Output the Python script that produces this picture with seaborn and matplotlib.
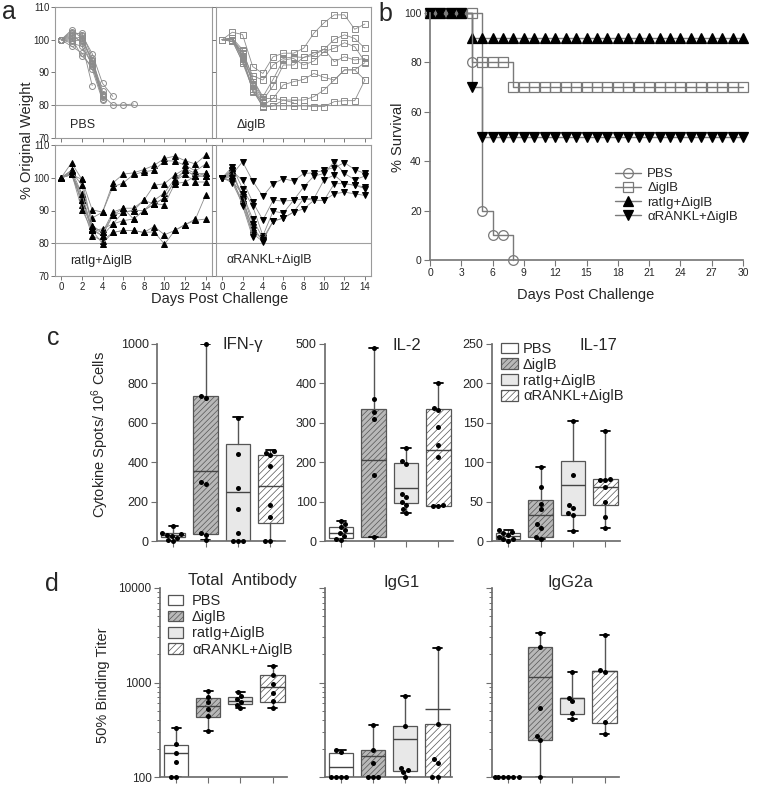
import numpy as np
import pandas as pd
import matplotlib
matplotlib.use("Agg")
import matplotlib.pyplot as plt
import seaborn as sns
from matplotlib.lines import Line2D
from matplotlib.patches import Patch

sns.set_theme(style="ticks")
plt.rcParams["font.family"] = ["Liberation Sans", "DejaVu Sans"]
plt.rcParams["mathtext.default"] = "regular"
plt.rcParams["hatch.linewidth"] = 0.5

groups = ["PBS", "ΔiglB", "ratIg+ΔiglB", "αRANKL+ΔiglB"]

# a: % original weight, one list per mouse starting at day 0
wt_pbs = [
    [100, 102.5, 101.5, 95.8, 86.7, 82.7],
    [100, 101.5, 102.2, 94.5, 83.0, 80.1, 80.1, 80.4],
    [100, 103.0, 100.5, 93.0, 83.0],
    [100, 101.0, 99.5, 92.0, 82.5],
    [100, 100.0, 101.0, 93.5, 83.5],
    [100, 99.0, 98.0, 92.5, 82.0],
    [100, 98.0, 96.0, 91.0, 81.5],
    [100, 102.0, 99.0, 86.0],
    [100, 100.5, 95.0, 92.0, 82.8],
    [100, 99.5, 100.0, 93.8, 84.5],
]
wt_iglb = [
    [100, 102.3, 101.6, 91.8, 89.7, 94.8, 95.9, 95.9, 97.4, 102.0, 105.2, 107.6, 107.6, 103.2, 104.8],
    [100, 100.5, 96.0, 89.0, 87.7, 92.3, 94.3, 94.8, 94.6, 95.3, 97.1, 100.1, 101.5, 100.4, 97.4],
    [100, 100.0, 94.5, 88.0, 82.6, 87.9, 93.8, 94.3, 92.3, 93.5, 96.4, 97.4, 99.1, 97.9, 93.3],
    [100, 100.5, 95.0, 87.0, 81.6, 85.9, 92.3, 92.3, 94.6, 96.0, 97.1, 93.3, 94.8, 93.8, 94.3],
    [100, 99.5, 93.5, 86.0, 79.8, 82.1, 86.2, 87.2, 87.9, 89.7, 88.5, 87.7, 90.8, 90.8, 87.7],
    [100, 100.0, 93.0, 85.0, 79.4, 79.8, 81.6, 81.6, 81.6, 82.6, 84.7, 87.7, 90.8, 90.8, 93.0],
    [100, 100.5, 94.0, 84.5, 79.6, 79.8, 79.8, 79.8, 79.8, 79.6, 79.6, 81.1, 81.4, 81.4, 87.7],
    [100, 100.0, 95.5, 84.0, 81.1],
    [100, 99.5, 96.5, 86.5, 80.6],
    [100, 100.5, 97.0, 88.0, 82.0, 82.1, 81.6, 80.8],
]
wt_ratig = [
    [100, 101.0, 99.5, 90.2, 89.5, 98.4, 101.1, 101.5, 102.5, 103.8, 105.9, 106.6, 105.2, 104.2, 106.9],
    [100, 102.3, 95.1, 87.7, 89.5, 97.2, 98.4, 101.0, 101.8, 102.3, 105.2, 105.1, 103.8, 102.1, 104.2],
    [100, 104.6, 99.5, 85.4, 83.3, 89.5, 90.7, 90.7, 93.1, 97.7, 98.2, 100.8, 102.8, 101.3, 101.3],
    [100, 101.5, 94.1, 84.4, 82.3, 88.5, 89.5, 90.0, 90.0, 93.1, 95.4, 99.7, 102.3, 100.5, 100.5],
    [100, 101.0, 93.1, 83.9, 84.4, 85.9, 86.9, 87.4, 90.0, 92.0, 93.9, 99.0, 101.1, 98.7, 98.7],
    [100, 102.3, 91.8, 82.3, 80.8, 83.3, 83.9, 83.9, 83.3, 85.1, 82.6, 83.9, 85.7, 87.4, 94.8],
    [100, 101.5, 90.3, 83.9, 79.9, 83.3, 83.9, 83.9, 83.3, 83.5, 79.7, 83.9, 85.7, 87.0, 87.4],
    [100, 101.0, 93.1, 83.9, 82.3, 85.9, 89.5, 90.0, 93.1, 92.0, 91.8, 98.2, 98.7, 100.5, 101.3],
    [100, 101.0, 95.1, 84.4, 83.3, 88.5, 90.7, 87.4, 90.0, 92.0, 93.9, 99.0, 102.3, 100.5, 100.5],
    [100, 102.0, 97.7, 85.4],
]
wt_rankl = [
    [100, 101.0, 104.9, 99.0, 94.3, 98.2, 99.7, 99.0, 101.3, 101.5, 102.3, 103.1, 104.6, 102.5, 101.3],
    [100, 102.0, 99.2, 92.6, 87.1, 93.1, 92.9, 93.1, 97.2, 100.5, 101.3, 104.9, 101.3, 99.4, 100.5],
    [100, 103.3, 96.7, 91.3, 82.3, 89.8, 89.2, 93.1, 93.6, 93.6, 99.4, 100.8, 98.2, 97.7, 97.2],
    [100, 100.5, 95.1, 87.4, 81.5, 86.7, 87.7, 89.5, 93.6, 93.1, 93.1, 98.2, 98.2, 97.7, 96.7],
    [100, 99.0, 93.0, 85.0, 80.8, 86.7, 87.7, 89.5, 90.5, 93.1, 93.1, 95.1, 95.6, 95.1, 94.6],
    [100, 101.5, 94.0, 84.0, 81.0],
    [100, 98.5, 92.0, 83.0, 80.5],
    [100, 102.5, 93.5, 82.5],
    [100, 100.0, 91.5, 81.8],
    [100, 99.0, 95.0, 86.0],
]

# b: % survival, one value per day from day 0
surv_pbs = [100, 100, 100, 100, 80, 20, 10, 10, 0]
surv_iglb = [100] * 5 + [80] * 3 + [70] * 23
surv_ratig = [100] * 4 + [90] * 27
surv_rankl = [100] * 4 + [70] + [50] * 26

# c / d: box summaries (min, q1, median, q3, max) and the individual points
ifn_box = [(0, 20, 30, 42, 75), (3, 35, 355, 736, 1000), (0, 0, 248, 493, 630), (0, 90, 277, 435, 460)]
ifn_pts = [[75, 40, 35, 30, 25, 15, 5, 0], [1000, 735, 725, 300, 290, 40, 30, 3],
           [625, 440, 270, 160, 40, 0, 0, 0], [455, 445, 435, 380, 185, 120, 0, 0]]
il2_box = [(0, 7, 21, 36, 50), (10, 10, 205, 336, 489), (70, 96, 135, 198, 236), (88, 90, 232, 336, 402)]
il2_pts = [[50, 42, 35, 27, 20, 12, 5, 2], [489, 360, 328, 310, 167, 10],
           [236, 202, 195, 120, 112, 100, 92, 80, 70], [402, 338, 332, 289, 243, 214, 92, 90, 88]]
il17_box = [(0, 2, 6, 10, 14), (2, 5, 33, 52, 94), (13, 33, 71, 101, 152), (17, 46, 69, 79, 140)]
il17_pts = [[14, 12, 10, 8, 5, 3, 2, 0], [94, 68, 47, 40, 22, 17, 5, 2],
            [152, 84, 46, 42, 35, 33, 13], [140, 79, 78, 77, 68, 50, 31, 17]]

tot_box = [(100, 100, 181, 218, 328), (307, 428, 563, 690, 813), (533, 592, 641, 707, 787), (533, 627, 903, 1200, 1506)]
tot_pts = [[328, 223, 181, 145, 100, 100], [813, 700, 620, 520, 440, 307],
           [787, 720, 670, 620, 580, 533], [1506, 1200, 960, 770, 640, 540]]
g1_box = [(100, 100, 128, 181, 192), (100, 100, 167, 194, 357), (100, 116, 255, 345, 724), (100, 100, 524, 368, 2300)]
g1_pts = [[192, 186, 100, 100, 100, 100], [357, 194, 142, 100, 100, 100],
          [724, 345, 125, 118, 112, 100], [2300, 368, 154, 142, 100, 100]]
g2a_box = [(100, 100, 100, 100, 100), (100, 247, 1153, 2400, 3320), (410, 464, 680, 690, 1303), (288, 377, 1320, 1334, 3214)]
g2a_pts = [[100, 100, 100, 100, 100, 100], [3320, 2400, 536, 272, 247, 100],
           [1303, 690, 631, 470, 410], [3214, 1340, 1290, 380, 288]]

box_fc = ["white", "#b8b8b8", "#e8e8e8", "white"]
box_hatch = [None, "//////", None, "/////"]

W, H = 762, 797
fig = plt.figure(figsize=(W / 100, H / 100), dpi=100)


def rect(x0, y0, x1, y1):
    return [x0 / W, 1 - y1 / H, (x1 - x0) / W, (y1 - y0) / H]


def ftext(x, y, s, **kw):
    fig.text(x / W, 1 - y / H, s, ha=kw.pop("ha", "center"), va=kw.pop("va", "center"), **kw)


# ---------------- a ----------------
a_sets = [
    (wt_pbs, rect(55, 7, 212, 138), "o", "none", "#8c8c8c", "PBS", 0.096, 0.076),
    (wt_iglb, rect(216, 7, 371, 138), "s", "none", "#8c8c8c", "ΔiglB", 0.133, 0.076),
    (wt_ratig, rect(55, 145, 212, 276), "^", "black", "black", "ratIg+ΔiglB", 0.096, 0.092),
    (wt_rankl, rect(216, 145, 371, 276), "v", "black", "black", "αRANKL+ΔiglB", 0.069, 0.10),
]
for i, (curves, r, mk, mfc, mec, lab, tx, ty) in enumerate(a_sets):
    ax = fig.add_axes(r)
    rows = [(m, d, v) for m, w in enumerate(curves) for d, v in enumerate(w)]
    df = pd.DataFrame(rows, columns=["mouse", "day", "weight"])
    ax.axhline(80, color="#a0a0a0", linewidth=0.8, zorder=0)
    sns.lineplot(data=df, x="day", y="weight", units="mouse", estimator=None, ax=ax,
                 color="#8c8c8c", linewidth=0.6, marker=mk, markersize=4.3,
                 markerfacecolor=mfc, markeredgecolor=mec, markeredgewidth=0.7, legend=False)
    ax.set_xlim(-0.6, 14.6)
    ax.set_ylim(70, 110)
    ax.set_xticks(range(0, 15, 2))
    ax.set_yticks(range(70, 111, 10))
    ax.set_xlabel("")
    ax.set_ylabel("")
    ax.tick_params(labelsize=7, length=3, width=0.7, color="#777777", pad=1,
                   labelbottom=(i >= 2), labelleft=(i % 2 == 0))
    for s in ax.spines.values():
        s.set_color("#9a9a9a")
        s.set_linewidth(0.8)
    ax.text(tx, ty, lab, transform=ax.transAxes, fontsize=9, va="baseline", ha="left")

ftext(220, 299, "Days Post Challenge", fontsize=10.5)
ftext(27, 140, "% Original Weight", fontsize=10.5, rotation=90)

# ---------------- b ----------------
ax_b = fig.add_axes(rect(430, 13, 743, 260))
b_sets = [(surv_pbs, "o", "none", "#7a7a7a"), (surv_iglb, "s", "none", "#7a7a7a"),
          (surv_ratig, "^", "black", "black"), (surv_rankl, "v", "black", "black")]
handles = []
for (s, mk, mfc, mec), lab in zip(b_sets, groups):
    sns.lineplot(x=list(range(len(s))), y=s, ax=ax_b, drawstyle="steps-post", color="#7a7a7a",
                 linewidth=1.0, marker=mk, markersize=7, markerfacecolor=mfc, markeredgecolor=mec,
                 markeredgewidth=0.9, errorbar=None, clip_on=False)
    handles.append(Line2D([0], [0], color="#7a7a7a", linewidth=1.0, marker=mk, markersize=7,
                          markerfacecolor=mfc, markeredgecolor=mec, markeredgewidth=0.9, label=lab))
ax_b.set_xlim(0, 30)
ax_b.set_ylim(0, 100)
ax_b.set_xticks(range(0, 31, 3))
ax_b.set_yticks(range(0, 101, 20))
ax_b.set_xlabel("")
ax_b.set_ylabel("")
sns.despine(ax=ax_b)
ax_b.tick_params(labelsize=7.5, length=4, width=0.8, color="#777777", pad=2)
for s in ("left", "bottom"):
    ax_b.spines[s].set_color("#7a7a7a")
ax_b.legend(handles=handles, loc="upper left", bbox_to_anchor=(615 / W, 1 - 168 / H),
            bbox_transform=fig.transFigure, frameon=False, fontsize=9.5, handlelength=2.0,
            handletextpad=0.45, labelspacing=0.15, borderpad=0, borderaxespad=0)
ftext(586, 295, "Days Post Challenge", fontsize=10.5)
ftext(398, 137, "% Survival", fontsize=10.5, rotation=90)


# ---------------- c / d ----------------
def box_panel(r, stats, pts, ylim, log=False):
    ax = fig.add_axes(r)
    if log:
        ax.set_yscale("log")
    bx = [dict(whislo=s[0], q1=s[1], med=s[2], q3=s[3], whishi=s[4], fliers=[]) for s in stats]
    art = ax.bxp(bx, positions=range(4), widths=0.75, patch_artist=True, manage_ticks=False,
                 showfliers=False, capwidths=0.28,
                 boxprops=dict(edgecolor="#555555", linewidth=0.9),
                 medianprops=dict(color="#444444", linewidth=1.0),
                 whiskerprops=dict(color="#555555", linewidth=1.0),
                 capprops=dict(color="black", linewidth=1.3))
    for p, fc, h in zip(art["boxes"], box_fc, box_hatch):
        p.set_facecolor(fc)
        if h:
            p.set_hatch(h)
    df = pd.DataFrame({"group": [g for g, v in zip(groups, pts) for _ in v],
                       "value": [x for v in pts for x in v]})
    sns.swarmplot(data=df, x="group", y="value", order=groups, color="black", size=3.6,
                  ax=ax, zorder=4, clip_on=False)
    ax.set_xlim(-0.5, 3.45)
    ax.set_ylim(*ylim)
    ax.set_xticks(range(4))
    ax.set_xticklabels([])
    ax.set_xlabel("")
    ax.set_ylabel("")
    sns.despine(ax=ax)
    for s in ("left", "bottom"):
        ax.spines[s].set_color("#6e6e6e")
    ax.tick_params(length=4, width=0.8, color="#6e6e6e", pad=2)
    ax.tick_params(axis="y", which="minor", length=2.5, width=0.7, color="#6e6e6e")
    return ax


ax = box_panel(rect(157, 344, 285, 541), ifn_box, ifn_pts, (0, 1000))
ax.set_yticks(range(0, 1001, 200))
ax.tick_params(labelsize=9)
ax = box_panel(rect(325, 344, 453, 541), il2_box, il2_pts, (0, 500))
ax.set_yticks(range(0, 501, 100))
ax.tick_params(labelsize=9)
ax = box_panel(rect(492, 344, 620, 541), il17_box, il17_pts, (0, 250))
ax.set_yticks(range(0, 251, 50))
ax.tick_params(labelsize=9)

ax = box_panel(rect(160, 588, 287, 777), tot_box, tot_pts, (100, 10000), log=True)
ax.set_yticks([100, 1000, 10000])
ax.set_yticklabels(["100", "1000", "10000"])
ax.yaxis.set_minor_formatter(matplotlib.ticker.NullFormatter())
ax.tick_params(labelsize=8.5)
for r, st, pt in [(rect(325, 588, 452, 777), g1_box, g1_pts), (rect(492, 588, 619, 777), g2a_box, g2a_pts)]:
    ax = box_panel(r, st, pt, (100, 10000), log=True)
    ax.set_yticks([100, 1000, 10000])
    ax.set_yticklabels([])
    ax.yaxis.set_minor_formatter(matplotlib.ticker.NullFormatter())

box_handles = [Patch(facecolor=fc, edgecolor="#555555", hatch=h, linewidth=0.9, label=g)
               for fc, h, g in zip(box_fc, box_hatch, groups)]
fig.legend(handles=box_handles, loc="upper left", bbox_to_anchor=(501 / W, 1 - 342 / H),
           frameon=False, fontsize=10.5, handlelength=1.15, handleheight=0.75,
           handletextpad=0.35, labelspacing=0.12, borderpad=0, borderaxespad=0)
fig.legend(handles=box_handles, loc="upper left", bbox_to_anchor=(168 / W, 1 - 594 / H),
           frameon=False, fontsize=10.5, handlelength=1.05, handleheight=0.75,
           handletextpad=0.6, labelspacing=0.15, borderpad=0, borderaxespad=0)

ftext(243, 345, "IFN-γ", fontsize=12)
ftext(407, 345, "IL-2", fontsize=12)
ftext(598, 345, "IL-17", fontsize=12)
ftext(242, 581, "Total  Antibody", fontsize=12)
ftext(402, 582, "IgG1", fontsize=12)
ftext(570, 582, "IgG2a", fontsize=12)
ftext(100, 434, "Cytokine Spots/ 10$^{6}$ Cells", fontsize=10.5, rotation=90)
ftext(103, 685, "50% Binding Titer", fontsize=10.5, rotation=90)

# panel letters
ftext(9, 12, "a", fontsize=18)
ftext(385, 14, "b", fontsize=18)
ftext(53, 338, "c", fontsize=18)
ftext(52, 584, "d", fontsize=18)

fig.savefig("out.png", dpi=100)
